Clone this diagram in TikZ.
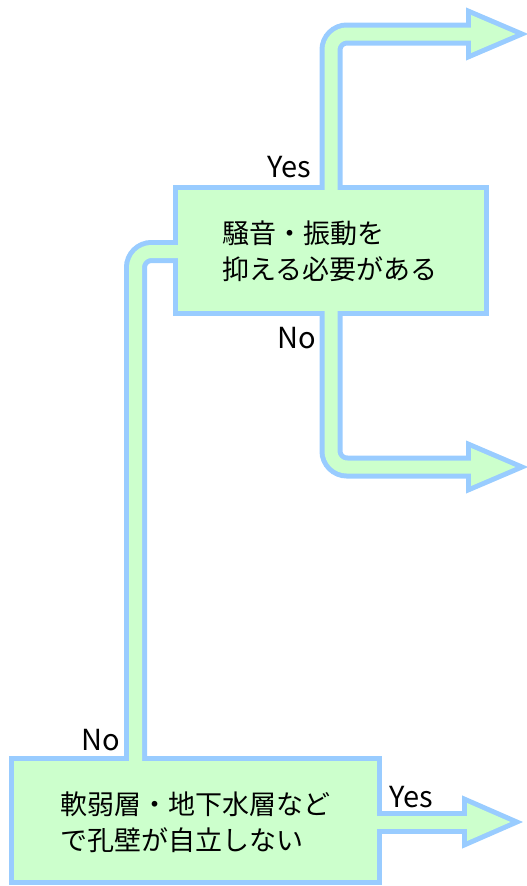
\documentclass[tikz,border=0pt]{standalone}
\usepackage{fontspec}
\newfontfamily\jp{Noto Sans CJK JP}
\definecolor{pipeblue}{RGB}{153,204,255}
\definecolor{pipegreen}{RGB}{204,255,204}
\begin{document}
\begin{tikzpicture}[x=1pt,y=-1pt,
  boxtext/.style={font=\jp\fontsize{27}{36}\selectfont, align=left, inner sep=0pt},
  lbl/.style={font=\jp\fontsize{29}{30}\selectfont, inner sep=0pt},
  pipeout/.style={draw=pipeblue, line width=23pt, rounded corners=16pt},
  pipein/.style={draw=pipegreen, line width=13pt, rounded corners=16pt},
  headout/.style={draw=pipeblue, fill=pipeblue, line width=10pt, line join=miter},
  headin/.style={fill=pipegreen},
  boxout/.style={fill=pipeblue},
  boxin/.style={fill=pipegreen}]
\useasboundingbox (0,0) rectangle (527,886);
% box positions (inner green area)
\node[minimum width=306pt, minimum height=121pt, inner sep=0pt] (q1) at (331,250.5) {};
\node[minimum width=363pt, minimum height=119pt, inner sep=0pt] (q2) at (195.5,820.5) {};
% arrow end coordinates (back of heads)
\coordinate (t1) at (471,34);
\coordinate (t2) at (471,467);
\coordinate (t3) at (467,822);
\coordinate (lx) at (135.5,251.5);
% ---------- blue layer ----------
\fill[boxout] ([shift={(-5,-5)}]q1.north west) rectangle ([shift={(5,5)}]q1.south east);
\fill[boxout] ([shift={(-5,-5)}]q2.north west) rectangle ([shift={(5,5)}]q2.south east);
\draw[pipeout] ([yshift=-10pt]q1.north) -- (q1.north |- t1) -- ([xshift=4pt]t1);
\draw[pipeout] ([yshift=10pt]q1.south) -- (q1.south |- t2) -- ([xshift=4pt]t2);
\draw[pipeout] ([yshift=-10pt]q2.north -| lx) -- (lx) -- ([xshift=10pt]q1.west |- lx);
\draw[pipeout] ([xshift=-10pt]q2.east |- t3) -- ([xshift=4pt]t3);
\draw[headout] ([yshift=-19pt]t1) -- ([xshift=44.5pt]t1) -- ([yshift=19pt]t1) -- cycle;
\draw[headout] ([yshift=-19pt]t2) -- ([xshift=44.5pt]t2) -- ([yshift=19pt]t2) -- cycle;
\draw[headout] ([yshift=-19pt]t3) -- ([xshift=43.5pt]t3) -- ([yshift=19pt]t3) -- cycle;
% ---------- green layer ----------
\fill[boxin] (q1.north west) rectangle (q1.south east);
\fill[boxin] (q2.north west) rectangle (q2.south east);
\draw[pipein] ([yshift=-10pt]q1.north) -- (q1.north |- t1) -- ([xshift=6pt]t1);
\draw[pipein] ([yshift=10pt]q1.south) -- (q1.south |- t2) -- ([xshift=6pt]t2);
\draw[pipein] ([yshift=-10pt]q2.north -| lx) -- (lx) -- ([xshift=10pt]q1.west |- lx);
\draw[pipein] ([xshift=-10pt]q2.east |- t3) -- ([xshift=6pt]t3);
\fill[headin] ([yshift=-19pt]t1) -- ([xshift=44.5pt]t1) -- ([yshift=19pt]t1) -- cycle;
\fill[headin] ([yshift=-19pt]t2) -- ([xshift=44.5pt]t2) -- ([yshift=19pt]t2) -- cycle;
\fill[headin] ([yshift=-19pt]t3) -- ([xshift=43.5pt]t3) -- ([yshift=19pt]t3) -- cycle;
% ---------- texts ----------
\node[boxtext] (q1t) at (330,251) {騒音・振動を\\抑える必要がある};
\node[boxtext] (q2t) at (195,822.5) {軟弱層・地下水層など\\で孔壁が自立しない};
\node[lbl] (y1) at (289.5,167) {Yes};
\node[lbl] (n1) at (297,338) {No};
\node[lbl] (n2) at (101,740) {No};
\node[lbl] (y2) at (411,797) {Yes};
\end{tikzpicture}
\end{document}
